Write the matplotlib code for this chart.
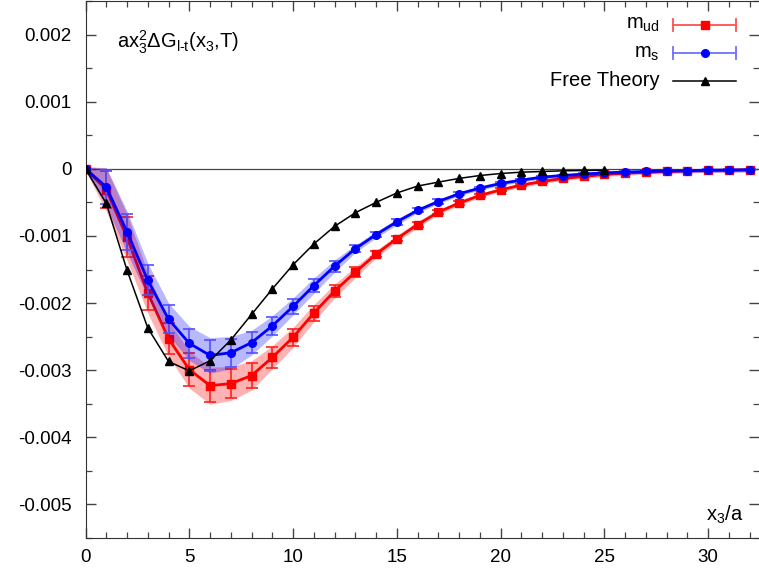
import numpy as np
import matplotlib
matplotlib.use("Agg")
import matplotlib.pyplot as plt
from matplotlib.ticker import MultipleLocator, FuncFormatter

# ---- data ----
x3 = list(range(33))

m_ud = [0, -0.00031, -0.00102, -0.00185, -0.00253, -0.00299, -0.00323, -0.00320,
        -0.00308, -0.00281, -0.00251, -0.00215, -0.00182, -0.00154, -0.00127,
        -0.00104, -0.00083, -0.000645, -0.00051, -0.000397, -0.000313, -0.000243,
        -0.000189, -0.000144, -0.000114, -0.000084, -0.000065, -0.00005, -0.00004,
        -0.00003, -0.000025, -0.00002, -0.000015]
m_ud_err = [0, 0.00028, 0.00030, 0.00026, 0.00023, 0.00024, 0.00024, 0.00022,
            0.00019, 0.00015, 0.00013, 0.00011, 0.00009, 0.00007, 0.00005,
            0.00004, 0.00004, 0.00003, 0.00003, 0.00002, 0.00002, 0.00002,
            0.00002, 0.000015, 0.000015, 0.00001, 0.00001, 0.00001, 0.00001,
            0.00001, 0.00001, 0.00001, 0.00001]

m_s = [0, -0.00027, -0.00094, -0.00166, -0.00224, -0.00260, -0.00278, -0.00274,
       -0.00259, -0.00234, -0.00205, -0.00174, -0.00145, -0.00119, -0.00098,
       -0.00079, -0.00062, -0.000487, -0.000372, -0.000288, -0.000218, -0.000169,
       -0.000124, -0.0001, -0.000079, -0.00006, -0.00005, -0.00004, -0.00003,
       -0.00003, -0.00002, -0.00002, -0.000015]
m_s_err = [0, 0.00025, 0.00027, 0.00022, 0.00021, 0.00022, 0.00023, 0.00021,
           0.00016, 0.00013, 0.00011, 0.00010, 0.00008, 0.00005, 0.00004,
           0.00004, 0.00003, 0.00003, 0.00002, 0.00002, 0.00002, 0.000015,
           0.000015, 0.00001, 0.00001, 0.00001, 0.00001, 0.00001, 0.00001,
           0.00001, 0.00001, 0.00001, 0.00001]

x3_free = list(range(26))
free = [0, -0.000515, -0.00151, -0.00237, -0.00287, -0.00301, -0.00286, -0.00255,
        -0.00217, -0.00179, -0.00143, -0.00112, -0.000857, -0.000655, -0.0005,
        -0.00036, -0.000257, -0.000198, -0.000143, -0.0001, -0.00007, -0.00005,
        -0.00004, -0.00003, -0.000025, -0.00002]

y_ticks = [-0.005, -0.004, -0.003, -0.002, -0.001, 0, 0.001, 0.002]
x_ticks = [0, 5, 10, 15, 20, 25, 30]

plt.rcParams["font.family"] = ["Liberation Sans", "DejaVu Sans"]
plt.rcParams["mathtext.fontset"] = "custom"
plt.rcParams["mathtext.rm"] = "Liberation Sans"
plt.rcParams["mathtext.it"] = "Liberation Sans"
plt.rcParams["axes.unicode_minus"] = False

fig = plt.figure(figsize=(7.59, 5.81), dpi=100)
ax = fig.add_axes([85.5 / 759, 1 - 538 / 581, 1 - 85.5 / 759, 537 / 581])

x = np.array(x3)
# zero line
ax.axhline(0, color="#444444", lw=0.9, zorder=1)

# ---- m_ud ----
y, e = np.array(m_ud), np.array(m_ud_err)
band = np.maximum(1.15 * e, 0.00003)
ax.fill_between(x, y - band, y + band, color="#ff0000", alpha=0.3, lw=0, zorder=2)
ax.errorbar(x, y, yerr=e, fmt="none", ecolor="#ff2020", elinewidth=1.2,
            capsize=4, capthick=1.2, zorder=3)
ax.plot(x, y, "-s", color="#ff0000", lw=2, ms=6, zorder=4)

# ---- m_s ----
y, e = np.array(m_s), np.array(m_s_err)
band = np.maximum(1.15 * e, 0.00003)
ax.fill_between(x, y - band, y + band, color="#0000ff", alpha=0.28, lw=0, zorder=5)
ax.errorbar(x, y, yerr=e, fmt="none", ecolor="#5050ff", elinewidth=1.2,
            capsize=4, capthick=1.2, zorder=6)
ax.plot(x, y, "-o", color="#0000ff", lw=2, ms=5.5, zorder=7)

# ---- free theory ----
ax.plot(x3_free, free, "-^", color="black", lw=1.1, ms=6, zorder=8)

# ---- axes ----
ax.set_xlim(0, 32.45)
ax.set_ylim(-0.0055, 0.0025)
ax.set_xticks(x_ticks)
ax.set_yticks(y_ticks)
ax.xaxis.set_minor_locator(MultipleLocator(1))
ax.yaxis.set_minor_locator(MultipleLocator(0.0005))
ax.yaxis.set_major_formatter(FuncFormatter(lambda v, p: f"{v:g}"))
ax.tick_params(which="both", direction="in", top=True, right=True,
               color="#444444", labelsize=13.5)
ax.tick_params(which="major", length=7, width=1)
ax.tick_params(which="minor", length=4, width=0.9)
ax.tick_params(axis="y", pad=10)
ax.tick_params(axis="x", pad=8)
ax.spines["right"].set_visible(False)
for s in ["left", "bottom", "top"]:
    ax.spines[s].set_color("#333333")

# labels inside the plot
fig.text(117 / 759, 1 - 42 / 581, r"ax$_3^2\Delta$G$_{\rm l\text{-}t}$(x$_3$,T)",
         fontsize=14.5, va="center", ha="left")
fig.text(743 / 759, 1 - 515 / 581, r"x$_3$/a", fontsize=14.5,
         va="center", ha="right")

# gnuplot-style key, top right
rows = [(24.5, r"m$_{\rm ud}$", "#ff0000", "s", 6, 2, "#ff5050"),
        (53, r"m$_{\rm s}$", "#0000ff", "o", 5.5, 2, "#7070ff"),
        (81, "Free Theory", "black", "^", 6, 1.1, None)]
for yp, lab, c, mk, ms, lw, ec in rows:
    yf = 1 - yp / 581
    fig.text(660 / 759, yf, lab, fontsize=14.5, ha="right", va="center")
    xs = np.array([673, 736]) / 759
    if ec is not None:
        fig.add_artist(plt.Line2D(xs, [yf, yf], color=ec, lw=1.3))
        for xc in xs:
            fig.add_artist(plt.Line2D([xc, xc], [yf - 6 / 581, yf + 6 / 581],
                                      color=ec, lw=1.3))
    else:
        fig.add_artist(plt.Line2D(xs, [yf, yf], color=c, lw=lw))
    fig.add_artist(plt.Line2D([704.5 / 759], [yf], marker=mk, color=c, ms=ms,
                              ls="none"))

fig.savefig("out.png", dpi=100)
